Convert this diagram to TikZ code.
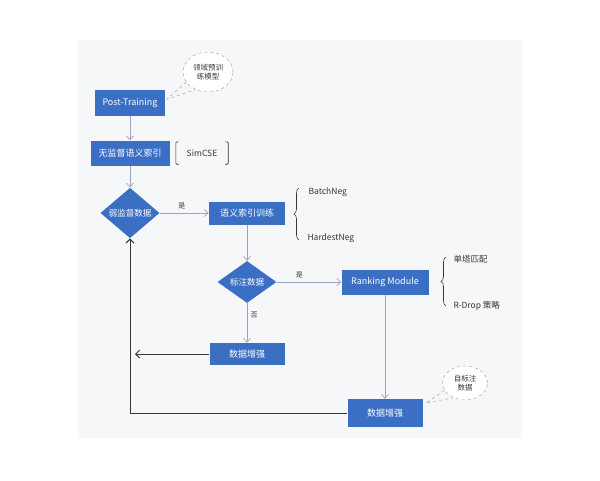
\documentclass[tikz,border=0pt]{standalone}
\usepackage{fontspec}
\setmainfont{Noto Sans CJK SC}
\usepackage{tikz}
\usetikzlibrary{positioning, arrows.meta, calc, shapes.geometric, decorations.pathreplacing}
\definecolor{FlowBlue}{RGB}{58, 111, 196}
\definecolor{FlowLine}{RGB}{150, 166, 196}
\definecolor{NoteGray}{RGB}{150, 150, 150}
\definecolor{PanelBg}{RGB}{246, 247, 249}
\definecolor{TextDark}{RGB}{55, 55, 55}
\tikzset{
  box/.style={rectangle, fill=FlowBlue, text=white, minimum height=25pt, minimum width=76pt,
    align=center, inner sep=2pt, font=\fontsize{9}{10}\selectfont},
  choice/.style={diamond, fill=FlowBlue, text=white, minimum width=59pt, minimum height=41pt,
    inner sep=0pt, font=\fontsize{8.5}{10}\selectfont},
  cloud/.style={ellipse, draw=NoteGray, dashed, fill=white, align=center, inner sep=0pt,
    text=TextDark, font=\fontsize{7.5}{9}\selectfont},
  tail/.style={draw=NoteGray, dashed},
  tag/.style={text=TextDark, font=\fontsize{8.5}{10}\selectfont},
  lbl/.style={text=TextDark, font=\fontsize{7}{8}\selectfont},
  flow/.style={-{Straight Barb[length=4pt, width=7pt]}, FlowLine, line width=0.7pt},
  back/.style={-{Straight Barb[length=4pt, width=8pt]}, TextDark, line width=1pt},
  curly/.style={decorate, decoration={brace, amplitude=5pt}, TextDark, line width=0.6pt},
}
\begin{document}
\begin{tikzpicture}[x=1pt, y=-1pt]
    \useasboundingbox (0,0) rectangle (600,480);
    \fill[PanelBg] (78,40) rectangle (522,438);
    % main column
    \node[box, minimum width=70pt, minimum height=26pt] (post) at (130,103) {Post-Training};
    \node[box, minimum width=79pt] (unsup) at (130,153) {无监督语义索引};
    \node[choice] (weak) at (130,213) {弱监督数据};
    \node[box, minimum height=23pt] (train) at (247,213) {语义索引训练};
    \node[choice, minimum height=40pt] (label) at (247,282) {标注数据};
    \node[box, minimum width=87pt] (rank) at (385,282) {Ranking Module};
    \node[box, minimum width=75pt, minimum height=22pt] (aug1) at (247,354) {数据增强};
    \node[box, minimum width=75pt, minimum height=28pt] (aug2) at (385,413) {数据增强};
    \coordinate (backend) at (135,354);
    % notes
    \node[cloud, minimum width=50pt, minimum height=40pt] (pretrain) at (208,72) {领域预训\\练模型};
    \coordinate (pretip) at (167,99);
    \draw[tail] (pretrain.205) -- (pretip) -- (pretrain.235);
    \node[cloud, minimum width=45pt, minimum height=34pt] (selflabel) at (465,383) {自标注\\数据};
    \coordinate (selftip) at (426,403);
    \draw[tail] (selflabel.200) -- (selftip) -- (selflabel.232);
    \node[tag, minimum width=52pt, minimum height=22pt] (simcse) at (202,153) {SimCSE};
    \draw[TextDark, line width=0.6pt, rounded corners=1pt]
      ($(simcse.north west)+(3,0)$) -- (simcse.north west) -- (simcse.south west) -- ++(3,0);
    \draw[TextDark, line width=0.6pt, rounded corners=1pt]
      ($(simcse.north east)+(-3,0)$) -- (simcse.north east) -- (simcse.south east) -- ++(-3,0);
    \node[tag, anchor=west] (batch) at (305,192) {BatchNeg};
    \node[tag, anchor=west] (hardest) at (304,238) {HardestNeg};
    \draw[curly] (299,240) -- (299,188);
    \node[tag, anchor=west] (single) at (450,259) {单塔匹配};
    \node[tag, anchor=west] (rdrop) at (450,306) {R-Drop 策略};
    \draw[curly] (446,306) -- (446,257);
    % connectors
    \draw[flow] (post) -- (unsup);
    \draw[flow] (unsup) -- (weak);
    \draw[flow] (weak) -- node[lbl, above, pos=0.45] {是} (train);
    \draw[flow] (train) -- (label);
    \draw[flow] (label) -- node[lbl, above, pos=0.35] {是} (rank);
    \draw[flow] (label) -- node[lbl, right, pos=0.3] {否} (aug1);
    \draw[flow] (rank) -- (aug2);
    \draw[back] (aug1) -- (backend);
    \draw[back] (aug2.west) -| (weak.south);
  \end{tikzpicture}
\end{document}
